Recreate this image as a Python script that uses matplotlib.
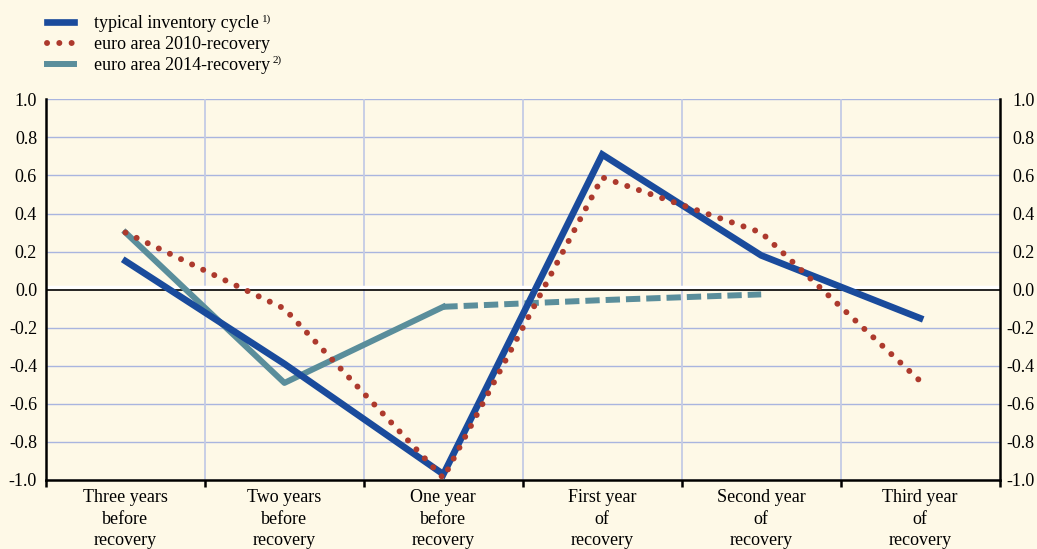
import numpy as np
import matplotlib.pyplot as plt

plt.rcParams['font.family'] = ['Liberation Serif', 'DejaVu Serif']
plt.rcParams['axes.unicode_minus'] = False

# Data
categories = ["Three years\nbefore\nrecovery", "Two years\nbefore\nrecovery",
              "One year\nbefore\nrecovery", "First year\nof\nrecovery",
              "Second year\nof\nrecovery", "Third year\nof\nrecovery"]
typical_cycle = [0.15, -0.39, -0.97, 0.71, 0.18, -0.15]
ea_2010 = [0.30, -0.10, -0.99, 0.59, 0.30, -0.48]
ea_2014 = [0.30, -0.49, -0.09]
ea_2014_proj = [-0.09, -0.055, -0.025]
yticks = [-1.0, -0.8, -0.6, -0.4, -0.2, 0.0, 0.2, 0.4, 0.6, 0.8, 1.0]
legend_labels = ['typical inventory cycle', 'euro area 2010-recovery', 'euro area 2014-recovery']
legend_notes = ['1)', '', '2)']

bg = '#FEF9E7'
blue = '#1A4B9C'
red = '#AD3A2D'
teal = '#5A8E9B'
grid_h = '#A9B5DF'
grid_v = '#C4CBE5'
fs = 13

fig = plt.figure(figsize=(10.37, 5.49), dpi=100, facecolor=bg)
ax = fig.add_axes([0.0444, 0.1257, 0.9195, 0.6934], facecolor=bg)

x = np.arange(len(categories)) + 0.5

ax.set_xlim(0, len(categories))
ax.set_ylim(-1.0, 1.0)

# grid
for yv in yticks:
    if yv != 0.0:
        ax.axhline(yv, color=grid_h, lw=1.0, zorder=1)
for xv in range(1, len(categories)):
    ax.axvline(xv, color=grid_v, lw=1.3, zorder=1)
ax.axhline(0.012, color='white', lw=2.5, zorder=1.5)
ax.axhline(0.0, color='black', lw=1.2, zorder=2)

# series
ax.plot(x, typical_cycle, color=blue, lw=4.8, solid_joinstyle='miter', zorder=4,
        label=legend_labels[0])
ax.plot(x, ea_2010, color=red, lw=4.3, linestyle=(0, (0.01, 2.05)),
        dash_capstyle='round', zorder=5, label=legend_labels[1])
ax.plot(x[:3], ea_2014, color=teal, lw=4.3, zorder=3, label=legend_labels[2])
ax.plot(x[2:5], ea_2014_proj, color=teal, lw=4.3, linestyle=(0, (2.4, 1.0)),
        dash_capstyle='butt', zorder=3)

# axes styling
ax.spines['top'].set_visible(False)
for s in ['left', 'right', 'bottom']:
    ax.spines[s].set_linewidth(1.8)
    ax.spines[s].set_color('black')

ax.set_yticks(yticks)
ax.set_yticklabels([f'{v:.1f}' for v in yticks])
ax.tick_params(axis='y', length=0, labelsize=fs, pad=6.5)

# right-hand labels, right aligned like the original
ax2 = ax.twinx()
ax2.set_ylim(-1.0, 1.0)
ax2.set_yticks(yticks)
ax2.set_yticklabels([f'{v:.1f}' for v in yticks], ha='right')
ax2.tick_params(axis='y', length=0, labelsize=fs, pad=25)
for s in ax2.spines.values():
    s.set_visible(False)

ax.set_xticks(range(len(categories) + 1))
ax.set_xticklabels([])
ax.tick_params(axis='x', which='major', direction='out', length=5, width=1.8)
ax.set_xticks(x, minor=True)
ax.set_xticklabels(categories, minor=True, fontsize=fs, linespacing=1.36)
ax.tick_params(axis='x', which='minor', length=0, pad=6.5)

leg = ax.legend(loc='upper left', bbox_to_anchor=(0.038, 0.986), bbox_transform=fig.transFigure,
                frameon=False, fontsize=fs, handlelength=1.5, handletextpad=1.12,
                labelspacing=0.22, borderaxespad=0)

# footnote markers after legend entries
fig.canvas.draw()
r = fig.canvas.get_renderer()
for txt, note in zip(leg.get_texts(), legend_notes):
    if note:
        bb = txt.get_window_extent(r)
        fig.text((bb.x1 + 3) / fig.bbox.width, (bb.y1 + 1) / fig.bbox.height, note,
                 fontsize=8, va='top', ha='left')

fig.savefig('out.png', dpi=100, facecolor=bg)
